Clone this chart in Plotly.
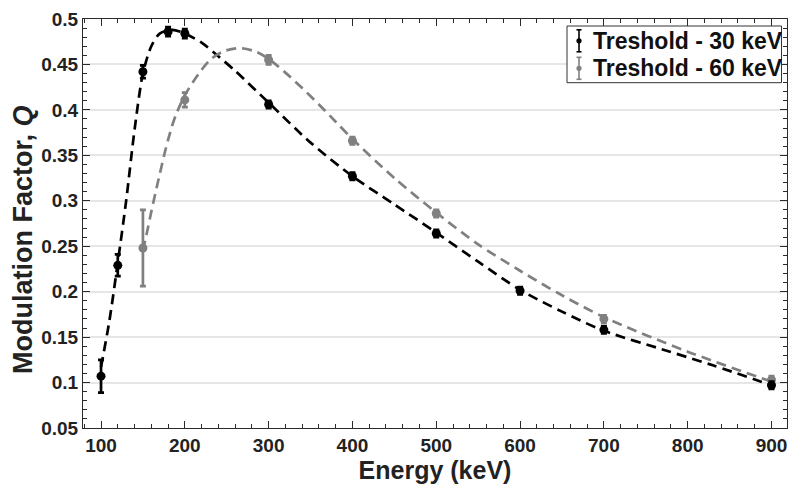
import plotly.graph_objects as go

# Measured modulation factor, threshold 30 keV
energy_30 = [100, 120, 150, 180, 200, 300, 400, 500, 600, 700, 900]
q_30 = [0.107, 0.229, 0.442, 0.486, 0.484, 0.406, 0.327, 0.264, 0.201, 0.158, 0.097]
err_30 = [0.018, 0.012, 0.007, 0.005, 0.005, 0.004, 0.004, 0.004, 0.004, 0.004, 0.004]

# Measured modulation factor, threshold 60 keV
energy_60 = [150, 200, 300, 400, 500, 700, 900]
q_60 = [0.248, 0.411, 0.455, 0.366, 0.286, 0.170, 0.103]
err_60 = [0.042, 0.008, 0.005, 0.004, 0.004, 0.004, 0.004]

# Fitted curves (sampled)
fit_energy_30 = [100, 110, 120, 130, 140, 150, 160, 170, 185, 200, 220, 240, 260,
                 300, 350, 400, 450, 500, 550, 600, 650, 700, 775, 830, 900]
fit_q_30 = [0.117, 0.168, 0.232, 0.300, 0.378, 0.440, 0.470, 0.484, 0.488, 0.484,
            0.474, 0.459, 0.443, 0.408, 0.364, 0.327, 0.296, 0.265, 0.233, 0.202,
            0.178, 0.157, 0.135, 0.119, 0.097]

fit_energy_60 = [150, 155, 160, 165, 170, 175, 180, 185, 190, 200, 210, 220, 230,
                 245, 265, 285, 300, 320, 340, 360, 380, 400, 450, 500, 550, 600,
                 650, 700, 800, 900]
fit_q_60 = [0.245, 0.266, 0.288, 0.309, 0.329, 0.349, 0.367, 0.383, 0.396, 0.416,
            0.431, 0.444, 0.455, 0.464, 0.468, 0.464, 0.456, 0.441, 0.424, 0.406,
            0.387, 0.368, 0.325, 0.287, 0.252, 0.223, 0.196, 0.172, 0.134, 0.101]

x_tick_vals = [100, 200, 300, 400, 500, 600, 700, 800, 900]
x_tick_text = ["100", "200", "300", "400", "500", "600", "700", "800", "900"]
y_tick_vals = [0.05, 0.1, 0.15, 0.2, 0.25, 0.3, 0.35, 0.4, 0.45, 0.5]
y_tick_text = ["0.05", "0.1", "0.15", "0.2", "0.25", "0.3", "0.35", "0.4", "0.45", "0.5"]

legend_labels = ["Treshold - 30 keV", "Treshold - 60 keV"]

BLACK = "#000000"
GRAY = "#808080"
FONT = "Liberation Sans"
TEXT = "#222222"

# Figure / plot-area geometry in pixels
FIG_W, FIG_H = 789, 488
M_L, M_R, M_T, M_B = 83, 2, 19, 60
PLOT_W = FIG_W - M_L - M_R
PLOT_H = FIG_H - M_T - M_B


def paper_x(px):
    return (px - M_L) / PLOT_W


def paper_y(py):
    return (FIG_H - M_B - py) / PLOT_H


fig = go.Figure()

# Fitted dashed curves
fig.add_trace(go.Scatter(
    x=fit_energy_30, y=fit_q_30, mode="lines", showlegend=False,
    line=dict(color=BLACK, width=2.7, dash="10px,6px", shape="spline", smoothing=0.8),
    hoverinfo="skip"))
fig.add_trace(go.Scatter(
    x=fit_energy_60, y=fit_q_60, mode="lines", showlegend=False,
    line=dict(color=GRAY, width=2.7, dash="10px,6px", shape="spline", smoothing=0.8),
    hoverinfo="skip"))

# Measured points with error bars
fig.add_trace(go.Scatter(
    x=energy_60, y=q_60, mode="markers", name=legend_labels[1], showlegend=False,
    marker=dict(color=GRAY, size=9),
    error_y=dict(type="data", array=err_60, color=GRAY, thickness=2.7, width=3)))
fig.add_trace(go.Scatter(
    x=energy_30, y=q_30, mode="markers", name=legend_labels[0], showlegend=False,
    marker=dict(color=BLACK, size=9),
    error_y=dict(type="data", array=err_30, color=BLACK, thickness=2.7, width=3)))

axis_common = dict(
    showline=True, linecolor="#2b2b2b", linewidth=1, mirror="ticks",
    ticks="inside", ticklen=7, tickcolor="#2b2b2b", tickwidth=1,
    tickfont=dict(family=FONT, size=19, color=TEXT, weight="bold"),
    zeroline=False,
)

fig.update_xaxes(
    range=[78.5, 918.5], tickvals=x_tick_vals, ticktext=x_tick_text,
    showgrid=False,
    minor=dict(dtick=20, tick0=0, ticks="inside", ticklen=4, tickcolor="#2b2b2b"),
    title=dict(text="Energy (keV)", standoff=6,
               font=dict(family=FONT, size=25, color=TEXT, weight="bold")),
    **axis_common)
fig.update_yaxes(
    range=[0.05, 0.5], tickvals=y_tick_vals, ticktext=y_tick_text,
    showgrid=True, gridcolor="#e6e6e6", gridwidth=1.5,
    minor=dict(dtick=0.01, tick0=0, ticks="inside", ticklen=4, tickcolor="#2b2b2b",
               showgrid=False),
    **axis_common)

# Y-axis title
annotations = [dict(xref="paper", yref="paper", x=paper_x(23), y=paper_y(240),
                    xanchor="center", yanchor="middle", textangle=-90, showarrow=False,
                    text="Modulation Factor, <i>Q</i>",
                    font=dict(family=FONT, size=27, color=TEXT, weight="bold"))]

# Legend box with error-bar icons
shapes = [dict(type="rect", xref="paper", yref="paper",
               x0=paper_x(567), x1=paper_x(781.5), y0=paper_y(82.7), y1=paper_y(26),
               fillcolor="white", line=dict(color="#333333", width=1), layer="above")]
row_centers = [40.8, 68.3]
row_colors = [BLACK, GRAY]
icon_x = 579
for label, cy, col in zip(legend_labels, row_centers, row_colors):
    shapes.append(dict(type="line", xref="paper", yref="paper",
                       x0=paper_x(icon_x), x1=paper_x(icon_x),
                       y0=paper_y(cy - 11), y1=paper_y(cy + 11),
                       line=dict(color=col, width=1.6), layer="above"))
    for cap in (cy - 11, cy + 11):
        shapes.append(dict(type="line", xref="paper", yref="paper",
                           x0=paper_x(icon_x - 2.5), x1=paper_x(icon_x + 2.5),
                           y0=paper_y(cap), y1=paper_y(cap),
                           line=dict(color=col, width=1.6), layer="above"))
    shapes.append(dict(type="circle", xref="paper", yref="paper",
                       x0=paper_x(icon_x - 2.6), x1=paper_x(icon_x + 2.6),
                       y0=paper_y(cy + 2.6), y1=paper_y(cy - 2.6),
                       fillcolor=col, line=dict(color=col, width=0), layer="above"))
    annotations.append(dict(xref="paper", yref="paper", x=paper_x(591), y=paper_y(cy),
                            xanchor="left", yanchor="middle", showarrow=False,
                            text=label,
                            font=dict(family=FONT, size=23, color="#111111", weight="bold")))

fig.update_layout(
    width=FIG_W, height=FIG_H,
    margin=dict(l=M_L, r=M_R, t=M_T, b=M_B, pad=0),
    paper_bgcolor="white", plot_bgcolor="white",
    font=dict(family=FONT, color=TEXT),
    shapes=shapes, annotations=annotations,
    showlegend=False,
)

fig.write_html("out.html")
